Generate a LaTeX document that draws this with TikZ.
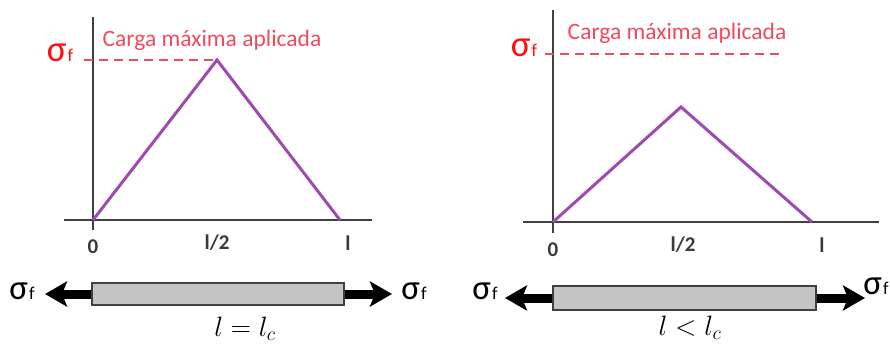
\RequirePackage{fix-cm}
\documentclass[tikz,border=0pt]{standalone}
\usepackage{fontspec}
\setmainfont{Carlito}
\usetikzlibrary{arrows.meta, positioning}
\definecolor{axisgray}{HTML}{404040}
\definecolor{plum}{HTML}{9E4AAE}
\definecolor{loadred}{HTML}{F04A5C}
\definecolor{sigred}{HTML}{FF1010}
\definecolor{barfill}{HTML}{C4C4C4}
\definecolor{tickgray}{HTML}{3A3A3A}

\newcommand{\sigf}{σ\kern1pt{\fontsize{18}{18}\selectfont f}}

\tikzset{
  axisline/.style={axisgray, line width=1.4pt},
  curve/.style={plum, line width=3pt, line join=miter},
  loadline/.style={loadred, line width=1.2pt, dash pattern=on 9pt off 6pt},
  loadtext/.style={text=loadred, font=\fontsize{23.5}{24}\selectfont},
  sigtop/.style={text=sigred, font=\fontsize{37}{37}\selectfont, inner sep=0pt},
  sigbar/.style={text=black, font=\fontsize{35}{35}\selectfont, inner sep=0pt},
  ticklab/.style={text=tickgray, font=\fontsize{21}{21}\selectfont\bfseries},
  fibre/.style={draw=axisgray, fill=barfill, line width=1.2pt, inner sep=0pt},
  pull/.style={line width=9pt, -{Stealth[length=22pt, width=25pt, inset=5pt]}},
  lengthlab/.style={font=\fontsize{28}{28}\selectfont}
}

\begin{document}
\begin{tikzpicture}[x=1pt, y=-1pt]
\useasboundingbox (0,0) rectangle (890,347);

% ---- left panel: l = l_c ----
% Axes
\coordinate (O1) at (93,220);
\draw[axisline] (93,230) -- (93,17);
\draw[axisline] (64,220) -- (372,220);

% Stress profile
\coordinate (P1) at (217,60);
\coordinate (E1) at (340,220);
\draw[curve] (O1) -- (P1) -- (E1);

% Maximum load
\coordinate (D1) at (84,60);
\draw[loadline] (D1) -- (P1);
\node[sigtop] (sl1) at (60,53) {\sigf};
\node[loadtext] (cl1) at (212,40) {Carga máxima aplicada};

% Tick labels
\node[ticklab] (z1) at (93,247) {0};
\node[ticklab] (h1) at (217,243) {l/2};
\node[ticklab] (l1) at (348,243) {l};

% Fibre under tension
\node[fibre, minimum width=252pt, minimum height=22pt] (bar1) at (218,294) {};
\coordinate (tl1) at (45,294);
\coordinate (tr1) at (392,294);
\draw[pull] (bar1.west) -- (tl1);
\draw[pull] (bar1.east) -- (tr1);
\node[sigbar] (sb1) at (22,291) {\sigf};
\node[sigbar] (sb2) at (414,291) {\sigf};
\node[lengthlab] (len1) at (245,329) {$l = l_c$};

% ---- right panel: l < l_c ----
% Axes
\coordinate (O2) at (553,222);
\draw[axisline] (553,233) -- (553,10);
\draw[axisline] (523,222) -- (879,222);

% Stress profile
\coordinate (P2) at (681,107);
\coordinate (E2) at (812,222);
\draw[curve] (O2) -- (P2) -- (E2);

% Maximum load
\coordinate (D2) at (545,54);
\coordinate (D3) at (782,54);
\draw[loadline] (D2) -- (D3);
\node[sigtop] (sl2) at (524,48) {\sigf};
\node[loadtext] (cl2) at (677,33) {Carga máxima aplicada};

% Tick labels
\node[ticklab] (z2) at (553,250) {0};
\node[ticklab] (h2) at (683,245) {l/2};
\node[ticklab] (l2) at (822,245) {l};

% Fibre under tension
\node[fibre, minimum width=263pt, minimum height=24pt] (bar2) at (684.5,298) {};
\coordinate (tl2) at (505,298);
\coordinate (tr2) at (865,298);
\draw[pull] (bar2.west) -- (tl2);
\draw[pull] (bar2.east) -- (tr2);
\node[sigbar] (sb3) at (485,291) {\sigf};
\node[sigbar] (sb4) at (876,286) {\sigf};
\node[lengthlab] (len2) at (690,328) {$l < l_c$};

\end{tikzpicture}
\end{document}
